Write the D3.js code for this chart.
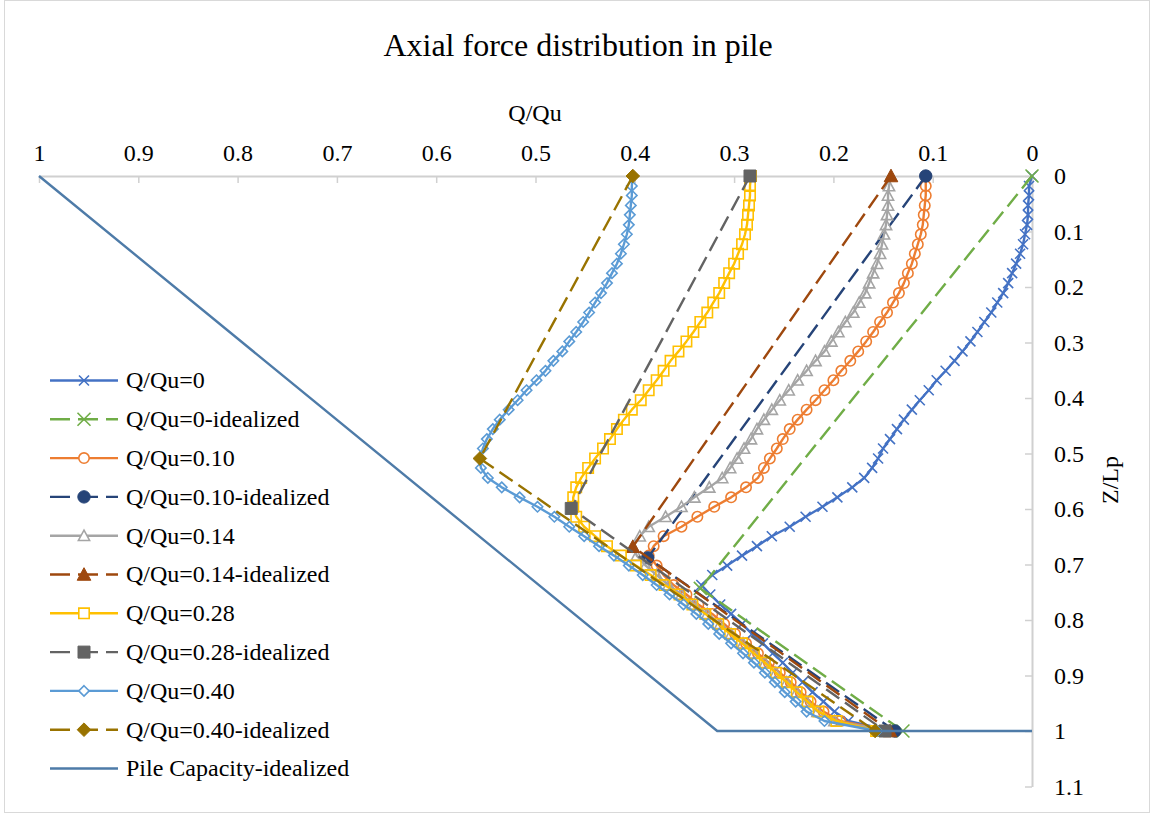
<!DOCTYPE html>
<html><head><meta charset="utf-8">
<script src="https://cdn.jsdelivr.net/npm/d3@7"></script>
<style>
body{margin:0;background:#fff}
svg{display:block}
text{font-family:"Liberation Serif","Times New Roman",serif;fill:#000}
</style>
</head><body><svg id="chart" width="1151" height="815"></svg>
<script>
// ---------- data ----------
const depth = [0,0.018,0.035,0.053,0.070,0.088,0.105,0.123,0.140,0.158,0.175,0.193,0.211,0.228,0.246,0.263,0.281,0.298,0.316,0.333,0.351,0.368,0.386,0.404,0.421,0.439,0.456,0.474,0.491,0.509,0.526,0.544,0.561,0.579,0.596,0.614,0.632,0.649,0.667,0.684,0.702,0.719,0.737,0.754,0.772,0.789,0.807,0.825,0.842,0.860,0.877,0.895,0.912,0.930,0.947,0.965,0.982,1];

const q000 = [0,0.003,0.003,0.004,0.004,0.005,0.007,0.009,0.012,0.016,0.020,0.024,0.029,0.035,0.041,0.048,0.055,0.062,0.070,0.078,0.087,0.096,0.104,0.113,0.121,0.129,0.136,0.143,0.150,0.155,0.161,0.169,0.181,0.196,0.211,0.228,0.244,0.262,0.277,0.292,0.307,0.322,0.333,0.324,0.314,0.303,0.292,0.282,0.271,0.261,0.251,0.241,0.231,0.221,0.210,0.199,0.185,0.141];
const q010 = [0.107,0.107,0.107,0.108,0.109,0.110,0.112,0.115,0.118,0.121,0.125,0.129,0.134,0.140,0.146,0.153,0.160,0.167,0.175,0.183,0.192,0.200,0.209,0.218,0.227,0.236,0.244,0.251,0.257,0.264,0.270,0.276,0.288,0.303,0.320,0.337,0.353,0.371,0.381,0.386,0.378,0.371,0.361,0.348,0.336,0.322,0.310,0.299,0.288,0.276,0.265,0.254,0.243,0.233,0.223,0.210,0.193,0.143];
const q014 = [0.142,0.144,0.145,0.145,0.146,0.147,0.149,0.151,0.153,0.156,0.160,0.164,0.168,0.174,0.180,0.188,0.195,0.202,0.209,0.218,0.227,0.236,0.245,0.254,0.262,0.270,0.277,0.283,0.290,0.297,0.304,0.312,0.325,0.340,0.353,0.369,0.386,0.395,0.402,0.398,0.389,0.378,0.366,0.353,0.340,0.327,0.314,0.303,0.291,0.280,0.269,0.258,0.247,0.237,0.227,0.216,0.199,0.145];
const q028 = [0.283,0.284,0.284,0.285,0.286,0.287,0.289,0.292,0.296,0.300,0.305,0.310,0.315,0.321,0.327,0.334,0.341,0.348,0.356,0.364,0.371,0.378,0.386,0.394,0.403,0.411,0.418,0.425,0.432,0.440,0.447,0.454,0.459,0.462,0.462,0.459,0.451,0.440,0.428,0.414,0.399,0.384,0.370,0.355,0.342,0.329,0.316,0.304,0.292,0.280,0.269,0.258,0.247,0.237,0.226,0.215,0.197,0.157];
const q040 = [0.402,0.403,0.403,0.404,0.405,0.406,0.408,0.411,0.414,0.418,0.423,0.428,0.434,0.440,0.446,0.452,0.459,0.466,0.473,0.482,0.490,0.499,0.509,0.518,0.527,0.536,0.543,0.549,0.553,0.556,0.555,0.548,0.534,0.516,0.498,0.481,0.466,0.451,0.436,0.421,0.406,0.392,0.378,0.365,0.351,0.338,0.326,0.315,0.303,0.291,0.280,0.269,0.259,0.249,0.238,0.227,0.209,0.156];

const idealDepth000 = [0, 0.743, 1];
const ideal000 = [0, 0.334, 0.130];
const idealDepth010 = [0, 0.688, 1];
const ideal010 = [0.107, 0.387, 0.138];
const idealDepth014 = [0, 0.668, 1];
const ideal014 = [0.142, 0.402, 0.143];
const idealDepth028 = [0, 0.599, 1];
const ideal028 = [0.284, 0.464, 0.148];
const idealDepth040 = [0, 0.509, 1];
const ideal040 = [0.402, 0.556, 0.158];
const pileDepth = [0, 1, 1];
const pileCapacity = [1, 0.317, 0];

const seriesNames = ["Q/Qu=0","Q/Qu=0-idealized","Q/Qu=0.10","Q/Qu=0.10-idealized","Q/Qu=0.14","Q/Qu=0.14-idealized","Q/Qu=0.28","Q/Qu=0.28-idealized","Q/Qu=0.40","Q/Qu=0.40-idealized","Pile Capacity-idealized"];
const xTickValues = [1,0.9,0.8,0.7,0.6,0.5,0.4,0.3,0.2,0.1,0];
const xTickLabels = ["1","0.9","0.8","0.7","0.6","0.5","0.4","0.3","0.2","0.1","0"];
const yTickValues = [0,0.1,0.2,0.3,0.4,0.5,0.6,0.7,0.8,0.9,1,1.1];
const yTickLabels = ["0","0.1","0.2","0.3","0.4","0.5","0.6","0.7","0.8","0.9","1","1.1"];
const minorStep = 0.025;

// ---------- chart ----------
const svg = d3.select("#chart");
svg.append("rect").attr("x",4.5).attr("y",0.5).attr("width",1145).attr("height",812)
  .attr("fill","#fff").attr("stroke","#D9D9D9").attr("stroke-width",1);

const x = d3.scaleLinear().domain([1,0]).range([39,1032]);
const y = d3.scaleLinear().domain([0,1.1]).range([176,786.5]);

const minorX = d3.range(0, 1.0001, minorStep).filter(v => Math.abs(v*10 - Math.round(v*10)) > 1e-6);
const minorY = d3.range(0, 1.1001, minorStep).filter(v => Math.abs(v*10 - Math.round(v*10)) > 1e-6);

const axisColor = "#D0D0D0";
// top axis
const gx = svg.append("g").attr("transform","translate(0,176)");
gx.call(d3.axisTop(x).tickValues(minorX).tickFormat("").tickSizeInner(-4).tickSizeOuter(0));
gx.call(d3.axisTop(x).tickValues(xTickValues).tickFormat((d,i)=>xTickLabels[i]).tickSizeInner(-7).tickSizeOuter(0).tickPadding(15));
// right axis
const gy = svg.append("g").attr("transform","translate(1032,0)");
gy.call(d3.axisRight(y).tickValues(minorY).tickFormat("").tickSizeInner(-4).tickSizeOuter(0));
gy.call(d3.axisRight(y).tickValues(yTickValues).tickFormat((d,i)=>yTickLabels[i]).tickSizeInner(-7).tickSizeOuter(0).tickPadding(22));

[gx,gy].forEach(g=>{
  g.selectAll(".domain").attr("stroke",axisColor).attr("stroke-width",2);
  g.selectAll(".tick line").attr("stroke",axisColor).attr("stroke-width",1.5);
  g.selectAll(".tick text").attr("font-family","Liberation Serif, Times New Roman, serif").attr("font-size",24).attr("fill","#000");
});
gy.selectAll(".tick text").attr("dy","0.33em");

// titles
svg.append("text").attr("x",578).attr("y",56).attr("text-anchor","middle").attr("font-size",32).text("Axial force distribution in pile");
svg.append("text").attr("x",535).attr("y",121).attr("text-anchor","middle").attr("font-size",24).text("Q/Qu");
svg.append("text").attr("transform","translate(1118,480) rotate(-90)").attr("text-anchor","middle").attr("font-size",24).text("Z/Lp");

// markers
function markerPath(type, s){
  switch(type){
    case "x": return `M${-s},${-s}L${s},${s}M${-s},${s}L${s},${-s}`;
    case "circle": return `M${s},0A${s},${s} 0 1,1 ${-s},0A${s},${s} 0 1,1 ${s},0Z`;
    case "triangle": return `M0,${-s}L${s},${s*0.85}L${-s},${s*0.85}Z`;
    case "square": return `M${-s},${-s}H${s}V${s}H${-s}Z`;
    case "diamond": return `M0,${-s}L${s},0L0,${s}L${-s},0Z`;
  }
  return "";
}

const DASH = "16,7";
const series = [
  {name:seriesNames[0], v:q000, z:depth, color:"#4472C4", dash:null, marker:"x", filled:false, s:5},
  {name:seriesNames[1], v:ideal000, z:idealDepth000, color:"#70AD47", dash:DASH, marker:"x", filled:false, s:6.5},
  {name:seriesNames[2], v:q010, z:depth, color:"#ED7D31", dash:null, marker:"circle", filled:false, s:5.2},
  {name:seriesNames[3], v:ideal010, z:idealDepth010, color:"#264478", dash:DASH, marker:"circle", filled:true, s:6.2},
  {name:seriesNames[4], v:q014, z:depth, color:"#A5A5A5", dash:null, marker:"triangle", filled:false, s:5.6},
  {name:seriesNames[5], v:ideal014, z:idealDepth014, color:"#9E480E", dash:DASH, marker:"triangle", filled:true, s:6.8},
  {name:seriesNames[6], v:q028, z:depth, color:"#FFC000", dash:null, marker:"square", filled:false, s:5.2},
  {name:seriesNames[7], v:ideal028, z:idealDepth028, color:"#636363", dash:DASH, marker:"square", filled:true, s:6},
  {name:seriesNames[8], v:q040, z:depth, color:"#5B9BD5", dash:null, marker:"diamond", filled:false, s:5.2},
  {name:seriesNames[9], v:ideal040, z:idealDepth040, color:"#997300", dash:DASH, marker:"diamond", filled:true, s:6.8},
  {name:seriesNames[10], v:pileCapacity, z:pileDepth, color:"#4E7BA8", dash:null, marker:null, filled:false, s:0}
];

const line = d3.line().x(d=>x(d.v)).y(d=>y(d.z));
const plot = svg.append("g");
series.forEach(sr=>{
  const pts = sr.v.map((v,i)=>({v, z:sr.z[i]}));
  const g = plot.append("g");
  g.append("path").datum(pts).attr("d",line).attr("fill","none")
    .attr("stroke",sr.color).attr("stroke-width",2.4)
    .attr("stroke-dasharray",sr.dash).attr("stroke-linejoin","round");
  if(sr.marker){
    g.selectAll("path.m").data(pts).join("path").attr("class","m")
      .attr("transform",d=>`translate(${x(d.v)},${y(d.z)})`)
      .attr("d",markerPath(sr.marker,sr.s))
      .attr("fill",sr.filled?sr.color:"none")
      .attr("stroke",sr.color).attr("stroke-width",sr.filled?1:1.6);
  }
});

// legend
const leg = svg.append("g");
series.forEach((sr,i)=>{
  const cy = 380.5 + i*38.8;
  const g = leg.append("g").attr("transform",`translate(0,${cy})`);
  g.append("line").attr("x1",50).attr("x2",118).attr("y1",0).attr("y2",0)
    .attr("stroke",sr.color).attr("stroke-width",2.4).attr("stroke-dasharray",sr.dash?"20,8":null);
  if(sr.marker){
    g.append("path").attr("transform","translate(84,0)").attr("d",markerPath(sr.marker,sr.s))
      .attr("fill",sr.filled?sr.color:"#fff").attr("stroke",sr.color).attr("stroke-width",sr.filled?1:1.6);
  }
  g.append("text").attr("x",126).attr("y",0).attr("dy","0.33em").attr("font-size",24).text(sr.name);
});
</script>
</body></html>
